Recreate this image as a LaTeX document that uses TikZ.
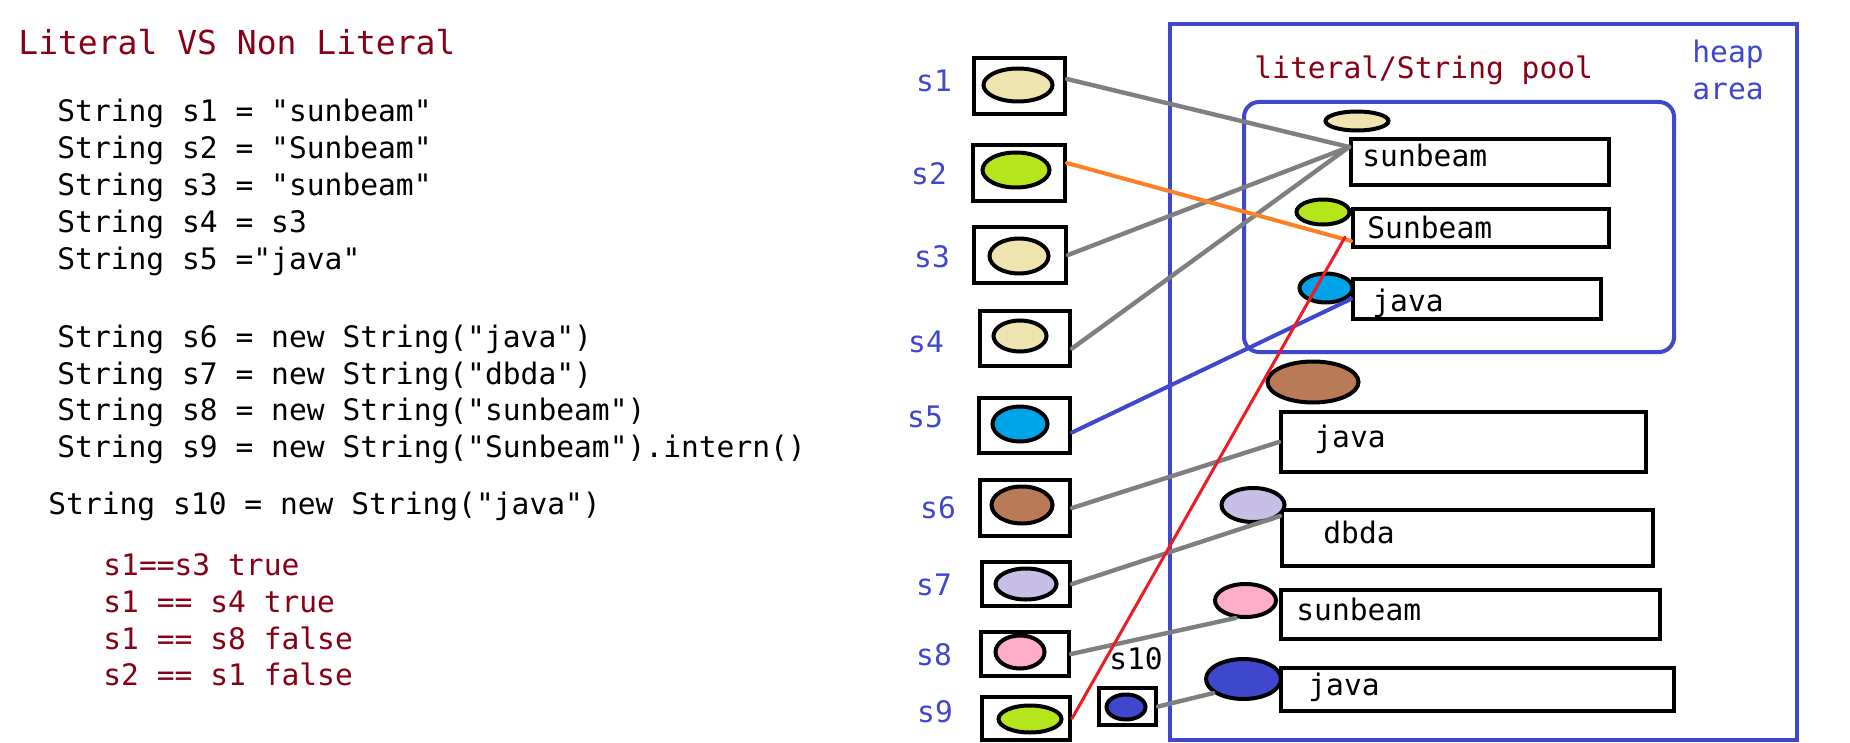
\documentclass[tikz,border=0pt]{standalone}
\usepackage{fontspec}
\newfontfamily\codefont{DejaVu Sans Mono}
\usetikzlibrary{shapes.geometric,positioning,calc}

\definecolor{darkred}{HTML}{880015}
\definecolor{indigo}{HTML}{3F48CC}
\definecolor{linkgray}{HTML}{7F7F7F}
\definecolor{linkorange}{HTML}{FF7F27}
\definecolor{linkred}{HTML}{ED1C24}
\definecolor{beige}{HTML}{EFE4B0}
\definecolor{lime}{HTML}{B5E61D}
\definecolor{skyblue}{HTML}{00A2E8}
\definecolor{objbrown}{HTML}{B97A57}
\definecolor{lavender}{HTML}{C8BFE7}
\definecolor{objpink}{HTML}{FFAEC9}

\begin{document}
\begin{tikzpicture}[
    %–––– GLOBAL STYLE TWEAKS ––––
    x=0.5pt, y=-0.5pt,                                % one unit = one pixel
    font=\codefont\fontsize{14.8}{18.5}\selectfont,
    code/.style    = {anchor=base west, inner sep=0pt},
    result/.style  = {code, text=darkred},
    var/.style     = {anchor=base, inner sep=0pt, text=indigo},
    refbox/.style  = {draw, line width=2pt, inner sep=0pt},
    obj/.style     = {ellipse, draw, line width=2pt, inner sep=0pt},
    strbox/.style  = {draw, line width=2pt, inner sep=0pt},
    link/.style    = {line width=2.2pt, draw=linkgray, line cap=round},
]
\fill[white] (0,0) rectangle (1850,743);
\useasboundingbox (0,0) rectangle (1850,743);

%–––– SOURCE CODE ––––
\node (title) [code, text=darkred, font=\codefont\fontsize{16.5}{20}\selectfont] at (18,55) {Literal VS Non Literal};

\foreach \i/\y/\txt in {
  1/122/{String s1 = "sunbeam"}, 2/159/{String s2 = "Sunbeam"},
  3/196/{String s3 = "sunbeam"}, 4/233/{String s4 = s3},
  5/270/{String s5 ="java"},
  6/347/{String s6 = new String("java")}, 7/384/{String s7 = new String("dbda")},
  8/420/{String s8 = new String("sunbeam")},
  9/457/{String s9 = new String("Sunbeam").intern()}}
  \node (line\i) [code] at (57,\y) {\txt};

\node (line10) [code] at (48,514) {String s10 = new String("java")};

\foreach \i/\y/\txt in {
  1/575/{s1==s3 true}, 2/612/{s1 == s4 true},
  3/649/{s1 == s8 false}, 4/685/{s2 == s1 false}}
  \node (res\i) [result] at (103,\y) {\txt};

%–––– HEAP AND POOL ––––
\node (heap) [draw=indigo, line width=2pt, minimum width=313.5pt, minimum height=358pt] at (1483.5,382) {};
\node (heapname) [anchor=north west, align=left, inner sep=0pt, text=indigo] at (1692,40) {heap\\area};

\node (pool) [draw=indigo, line width=2pt, rounded corners=7.5pt, minimum width=215pt, minimum height=125pt] at (1459,227) {};
\node (poolname) [code, text=darkred] at (1254,79) {literal/String pool};

%–––– STRING OBJECTS ––––
\foreach \n/\x/\y/\w/\h/\tx/\ty/\t in {
  b1/1480/162/129/23/1362/167/sunbeam, b2/1481/228/128/19/1367/239/Sunbeam,
  b3/1477/299/124/20/1372/311/java,
  c1/1463.5/442/182.5/30/1314/447/java, c2/1467.5/538/185.5/28/1323/543/dbda,
  c3/1470.5/614.5/189.5/24.5/1296/620/sunbeam, c4/1477.5/689.5/196.5/21.5/1308/695/java}
{
  \node (\n) [strbox, minimum width=\w pt, minimum height=\h pt] at (\x,\y) {};
  \node (t\n) [code] at (\tx,\ty) {\t};
}

\foreach \n/\x/\y/\w/\h/\c in {
  p1/1357/121/31.5/9.5/beige, p2/1323/212/26.5/12.5/lime,
  p3/1326/288/26.5/14.5/skyblue,
  h1/1313/382/45.5/20.5/objbrown, h2/1253/505/31.5/17/lavender,
  h3/1245.5/600.5/30.5/16.5/objpink, h4/1243.5/679/37.5/20/indigo}
  \node (\n) [obj, fill=\c, minimum width=\w pt, minimum height=\h pt] at (\x,\y) {};

%–––– REFERENCES ––––
\foreach \i/\x/\y/\w/\h in {
  1/1019.5/86/45.5/28, 2/1019/173/46/28, 3/1020/255/46/28,
  4/1025/338.5/45/27.5, 5/1024.5/425.5/45.5/27.5, 6/1025/508/45/28,
  7/1026/584/44/22, 8/1025/654/44/22, 9/1026/718.5/44/21.5,
  10/1127.5/706.5/28.5/18.5}
  \node (r\i) [refbox, minimum width=\w pt, minimum height=\h pt] at (\x,\y) {};

\foreach \i/\x/\y/\w/\h/\c in {
  1/1018/85/34.5/16.5/beige, 2/1016/170/33.5/17.5/lime,
  3/1019/256/29.5/17.5/beige, 4/1020/336/26.5/15.5/beige,
  5/1020/424/27.5/17.5/skyblue, 6/1022/505/30.5/18.5/objbrown,
  7/1026/584/30.5/15.5/lavender, 8/1020/652/24.5/16.5/objpink,
  9/1030/719/31.5/13.5/lime, 10/1126/707/19.5/12.5/indigo}
  \node (e\i) [obj, fill=\c, minimum width=\w pt, minimum height=\h pt] at (\x,\y) {};

\foreach \i/\x/\y in {
  1/934/92, 2/929/185, 3/932/267, 4/926/352, 5/925/427,
  6/938/518, 7/934/595, 8/934/665, 9/935/722}
  \node (lab\i) [var] at (\x,\y) {s\i};
\node (lab10) [var, text=black] at (1136,669) {s10};

%–––– CONNECTORS ––––
\coordinate (r1out) at ([yshift=3.5pt]r1.east);
\coordinate (r2out) at ([yshift=5pt]r2.east);
\coordinate (r4out) at ([yshift=-5pt]r4.east);
\coordinate (r5out) at ([yshift=-3.5pt]r5.east);
\coordinate (b1in)  at ([yshift=-5pt]b1.north west);
\coordinate (b2in)  at ([yshift=4pt]b2.south west);
\coordinate (b2red) at ([xshift=-3pt,yshift=6pt]b2.south west);
\coordinate (c2in)  at ([yshift=-4pt]c2.north west);

\foreach \a/\b in {
  r1out/b1in, r3.east/b1in, r4out/b1in,
  r6.east/c1.west, r7.east/c2in, r8.east/h3.240, r10.east/h4.205}
  \draw[link] (\a) -- (\b);

\draw[link, draw=linkorange, line width=2pt] (r2out) -- (b2in);
\draw[link, draw=indigo, line width=2pt] (r5out) -- (b3.west);
\draw[link, draw=linkred, line width=1.5pt] (r9.east) -- (b2red);
\end{tikzpicture}
\end{document}
